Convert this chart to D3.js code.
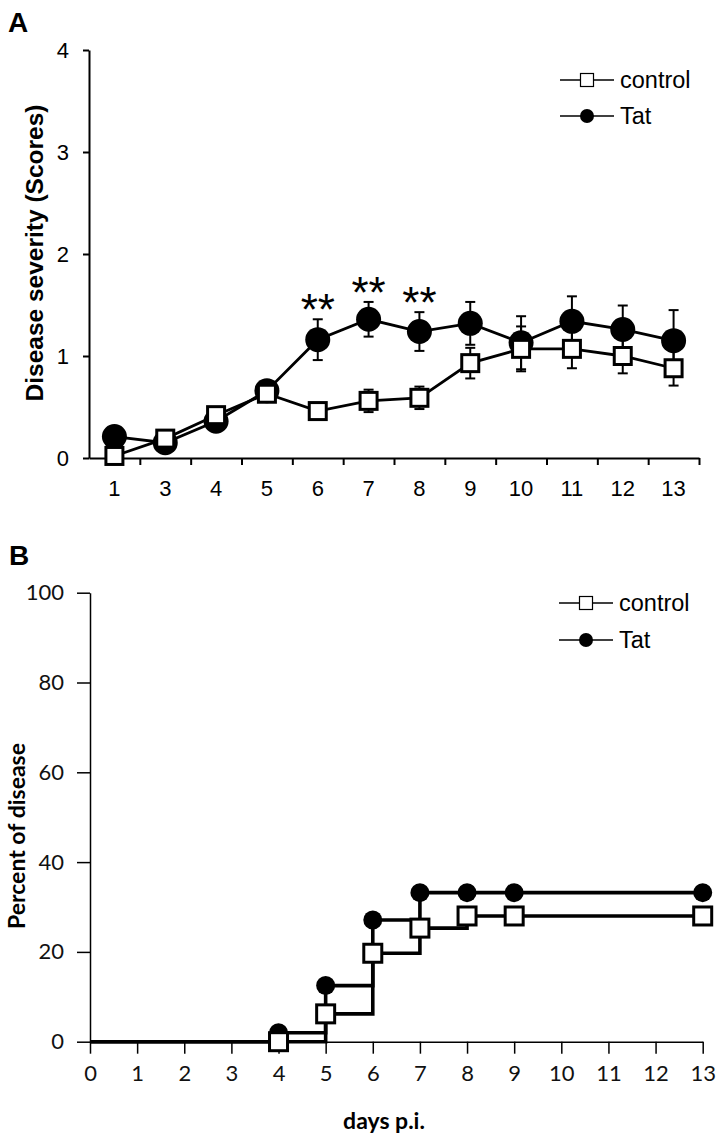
<!DOCTYPE html>
<html><head><meta charset="utf-8">
<script src="https://cdn.jsdelivr.net/npm/d3@7"></script>
<style>body{margin:0;background:#fff} svg{display:block}</style>
</head><body>
<svg id="c" width="724" height="1144"></svg>
<script>
// ---------- Panel A data ----------
const daysA = ["1","3","4","5","6","7","8","9","10","11","12","13"];
const controlMeanA = [0.02,0.19,0.42,0.63,0.46,0.56,0.59,0.93,1.07,1.07,1.00,0.88];
const controlErrA  = [0.03,0.05,0.05,0.07,0.08,0.11,0.11,0.15,0.22,0.19,0.17,0.17];
const tatMeanA     = [0.21,0.15,0.36,0.66,1.16,1.36,1.24,1.32,1.13,1.34,1.26,1.15];
const tatErrA      = [0.04,0.05,0.06,0.08,0.20,0.17,0.19,0.21,0.26,0.245,0.235,0.30];
const starDaysA = ["6","7","8"];
const yTicksA = [0,1,2,3,4];

// ---------- Panel B data ----------
const daysB    = [0,4,5,6,7,8,9,13];
const controlB = [0,0,6.2,19.7,25.3,28,28,28];
const tatB     = [0,2,12.5,27.1,33.2,33.2,33.2,33.2];
const xTicksB = [0,1,2,3,4,5,6,7,8,9,10,11,12,13];
const yTicksB = [0,20,40,60,80,100];
const seriesNames = ["control","Tat"];

const svg = d3.select("#c");
const ARIAL = "'Liberation Sans', Arial, sans-serif";
const CAL = "Lato, 'Open Sans', sans-serif";

// ================= Panel A =================
const xA = d3.scaleBand().domain(daysA).range([89, 699]).padding(0);
const edgeA = d3.scaleLinear().domain([0, daysA.length]).range([89, 699]);
const yA = d3.scaleLinear().domain([0, 4]).range([458, 50]);
const gA = svg.append("g");

gA.append("text").attr("x", 8).attr("y", 32).text("A")
  .attr("font-family", ARIAL).attr("font-weight", "bold").attr("font-size", 28);

// y axis
const yAxA = gA.append("g").attr("transform", "translate(89,0)")
  .call(d3.axisLeft(yA).tickValues(yTicksA).tickFormat(d3.format("d")).tickSize(6).tickSizeOuter(0).tickPadding(14));
yAxA.selectAll("text").attr("font-family", ARIAL).attr("font-size", 22).attr("fill", "#000");
yAxA.selectAll("line,path").attr("stroke", "#000").attr("stroke-width", 2);

// x axis (labels)
const xAxA = gA.append("g").attr("transform", "translate(0,458)")
  .call(d3.axisBottom(xA).tickSize(0).tickPadding(22));
xAxA.selectAll("text").attr("font-family", ARIAL).attr("font-size", 22).attr("fill", "#000");
xAxA.select("path").attr("stroke", "#000").attr("stroke-width", 2);
// x axis boundary ticks
const xAxA2 = gA.append("g").attr("transform", "translate(0,458)")
  .call(d3.axisBottom(edgeA).tickValues(d3.range(1, daysA.length + 1)).tickSize(7).tickSizeOuter(0).tickFormat(""));
xAxA2.select("path").remove();
xAxA2.selectAll("line").attr("stroke", "#000").attr("stroke-width", 2);

gA.append("text").attr("transform", "translate(43,253) rotate(-90)")
  .attr("text-anchor", "middle").attr("font-family", ARIAL).attr("font-weight", "bold")
  .attr("font-size", 24.5).text("Disease severity (Scores)");

const cx = d => xA(d) + xA.bandwidth() / 2;

function drawSeriesA(means, errs, type) {
  const g = gA.append("g");
  const pts = daysA.map((d, i) => ({d, m: means[i], e: errs[i]}));
  g.append("path").datum(pts)
    .attr("d", d3.line().x(p => cx(p.d)).y(p => yA(p.m)))
    .attr("fill", "none").attr("stroke", "#000").attr("stroke-width", 2.8);
  const eb = g.selectAll("g.eb").data(pts).join("g");
  eb.append("line").attr("x1", p => cx(p.d)).attr("x2", p => cx(p.d))
    .attr("y1", p => yA(p.m - p.e)).attr("y2", p => yA(p.m + p.e))
    .attr("stroke", "#000").attr("stroke-width", 2);
  [-1, 1].forEach(s => {
    eb.append("line").attr("x1", p => cx(p.d) - 5).attr("x2", p => cx(p.d) + 5)
      .attr("y1", p => yA(p.m + s * p.e)).attr("y2", p => yA(p.m + s * p.e))
      .attr("stroke", "#000").attr("stroke-width", 2);
  });
  if (type === "circle") {
    g.selectAll("circle").data(pts).join("circle")
      .attr("cx", p => cx(p.d)).attr("cy", p => yA(p.m)).attr("r", 12.5).attr("fill", "#000");
  } else {
    g.selectAll("rect").data(pts).join("rect")
      .attr("x", p => cx(p.d) - 8.5).attr("y", p => yA(p.m) - 8.5)
      .attr("width", 17).attr("height", 17)
      .attr("fill", "#fff").attr("stroke", "#000").attr("stroke-width", 3);
  }
}
drawSeriesA(tatMeanA, tatErrA, "circle");
drawSeriesA(controlMeanA, controlErrA, "square");

// significance stars
gA.selectAll("text.star").data(starDaysA).join("text").attr("class", "star")
  .attr("x", d => cx(d)).attr("y", d => { const i = daysA.indexOf(d); return yA(tatMeanA[i] + tatErrA[i]) + 6; })
  .attr("text-anchor", "middle").attr("font-family", ARIAL).attr("font-size", 44).text("**");

function legend(g, x, y0, gap) {
  seriesNames.forEach((name, i) => {
    const y = y0 + i * gap;
    g.append("line").attr("x1", x).attr("x2", x + 54).attr("y1", y).attr("y2", y)
      .attr("stroke", "#000").attr("stroke-width", 1.3);
    if (i === 0) {
      g.append("rect").attr("x", x + 20.5).attr("y", y - 6.5).attr("width", 13).attr("height", 13)
        .attr("fill", "#fff").attr("stroke", "#000").attr("stroke-width", 1.2);
    } else {
      g.append("circle").attr("cx", x + 27).attr("cy", y).attr("r", 7).attr("fill", "#000");
    }
    g.append("text").attr("x", x + 60).attr("y", y + 8).text(name)
      .attr("font-family", ARIAL).attr("font-size", 23.5);
  });
}
legend(gA, 560, 80, 36);

// ================= Panel B =================
const xB = d3.scaleLinear().domain([0, 13]).range([90, 702.7]);
const yB = d3.scaleLinear().domain([0, 100]).range([1041.7, 592.7]);
const gB = svg.append("g");

gB.append("text").attr("x", 9).attr("y", 565).text("B")
  .attr("font-family", ARIAL).attr("font-weight", "bold").attr("font-size", 28);

const yAxB = gB.append("g").attr("transform", "translate(90,0)")
  .call(d3.axisLeft(yB).tickValues(yTicksB).tickSize(13).tickSizeOuter(0).tickPadding(13));
yAxB.selectAll("text").attr("font-family", CAL).attr("font-size", 22).attr("fill", "#111");
yAxB.selectAll("line,path").attr("stroke", "#000").attr("stroke-width", 1.5);

const xAxB = gB.append("g").attr("transform", "translate(0,1041.7)")
  .call(d3.axisBottom(xB).tickValues(xTicksB).tickSize(12).tickSizeOuter(0).tickPadding(12).tickFormat(d3.format("d")));
xAxB.selectAll("text").attr("font-family", CAL).attr("font-size", 22).attr("fill", "#111");
xAxB.selectAll("line,path").attr("stroke", "#000").attr("stroke-width", 1.5);

gB.append("text").attr("transform", "translate(25,836) rotate(-90)")
  .attr("text-anchor", "middle").attr("font-family", CAL).attr("font-weight", "bold")
  .attr("font-size", 23).text("Percent of disease");
gB.append("text").attr("x", 384).attr("y", 1129)
  .attr("text-anchor", "middle").attr("font-family", CAL).attr("font-weight", "bold")
  .attr("font-size", 23).text("days p.i.");

function drawSeriesB(vals, type) {
  const g = gB.append("g");
  const pts = daysB.map((d, i) => ({d, v: vals[i]}));
  g.append("path").datum(pts)
    .attr("d", d3.line().curve(d3.curveStepAfter).x(p => xB(p.d)).y(p => yB(p.v)))
    .attr("fill", "none").attr("stroke", "#000").attr("stroke-width", 3.6);
  const mk = pts.filter(p => p.d > 0);
  if (type === "circle") {
    g.selectAll("circle").data(mk).join("circle")
      .attr("cx", p => xB(p.d)).attr("cy", p => yB(p.v)).attr("r", 9.5).attr("fill", "#000");
  } else {
    g.selectAll("rect").data(mk).join("rect")
      .attr("x", p => xB(p.d) - 9).attr("y", p => yB(p.v) - 9)
      .attr("width", 18).attr("height", 18)
      .attr("fill", "#fff").attr("stroke", "#000").attr("stroke-width", 3);
  }
}
drawSeriesB(tatB, "circle");
drawSeriesB(controlB, "square");

legend(gB, 559, 603, 37);
</script>
</body></html>
